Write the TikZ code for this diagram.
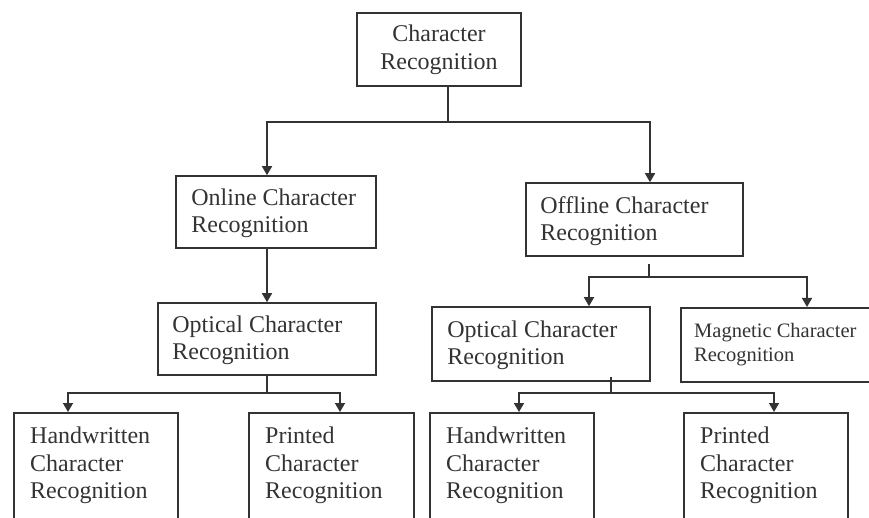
\documentclass[tikz,border=0pt]{standalone}
\usepackage{fontspec}
\setmainfont{Liberation Serif}
\usetikzlibrary{arrows.meta}
\definecolor{ink}{HTML}{333333}
\begin{document}
\begin{tikzpicture}[x=1pt,y=-1pt,
  box/.style={draw=ink,line width=1.6pt,rectangle,inner sep=0pt,text=ink},
  lbl/.style={inner sep=0pt,text=ink,align=left,anchor=west,
    font=\fontsize{24}{27.5}\selectfont},
  conn/.style={draw=ink,line width=1.6pt},
  arr/.style={conn,-{Triangle[length=9pt,width=10pt]}}]
\useasboundingbox (0,0) rectangle (869,518);
\clip (0,0) rectangle (869,518);
% boxes
\node[box,minimum width=164,minimum height=73,align=center,
  font=\fontsize{24}{28}\selectfont] (top) at (439,49.5) {Character\\Recognition};
\node[box,minimum width=200,minimum height=72] (online) at (276,212) {};
\node[lbl] (onlinet) at ([shift={(16pt,-1.5pt)}]online.west) {Online Character\\Recognition};
\node[box,minimum width=217,minimum height=73] (offline) at (634.5,219.5) {};
\node[lbl] (offlinet) at ([shift={(15pt,-1.5pt)}]offline.west) {Offline Character\\Recognition};
\node[box,minimum width=218,minimum height=72] (opt1) at (267,339) {};
\node[lbl] (opt1t) at ([shift={(15pt,-1.5pt)}]opt1.west) {Optical Character\\Recognition};
\node[box,minimum width=218,minimum height=74] (opt2) at (541,344) {};
\node[lbl] (opt2t) at ([shift={(16pt,-1.5pt)}]opt2.west) {Optical Character\\Recognition};
\node[box,minimum width=220,minimum height=74,anchor=north west] (mag) at (680,307) {};
\node[lbl,font=\fontsize{20.5}{24}\selectfont] (magt) at ([xshift=14pt]mag.west) {Magnetic Character\\Recognition};
% bottom boxes
\node[box,minimum width=164,minimum height=140,anchor=north west] (hw1) at (13,412) {};
\node[lbl,anchor=north west] (hw1t) at ([shift={(17pt,-15pt)}]hw1.north west) {Handwritten\\Character\\Recognition};
\node[box,minimum width=165,minimum height=140,anchor=north west] (pr1) at (248,412) {};
\node[lbl,anchor=north west] (pr1t) at ([shift={(17pt,-15pt)}]pr1.north west) {Printed\\Character\\Recognition};
\node[box,minimum width=164,minimum height=140,anchor=north west] (hw2) at (429,412) {};
\node[lbl,anchor=north west] (hw2t) at ([shift={(17pt,-15pt)}]hw2.north west) {Handwritten\\Character\\Recognition};
\node[box,minimum width=164,minimum height=140,anchor=north west] (pr2) at (683,412) {};
\node[lbl,anchor=north west] (pr2t) at ([shift={(17pt,-15pt)}]pr2.north west) {Printed\\Character\\Recognition};
% junctions
\coordinate (j1) at (448,122);
\coordinate (j2) at (649,277);
\coordinate (j3) at (267,393);
\coordinate (j4) at (611,393);
% connectors
\draw[conn] (top.south -| j1) -- (j1);
\draw[arr] (j1) -| ([xshift=-9pt]online.north);
\draw[arr] (j1) -| ([xshift=15.5pt]offline.north);
\draw[arr] (online.south -| j3) -- (opt1.north -| j3);
\draw[conn] ([yshift=-7pt]offline.south -| j2) -- (j2);
\draw[arr] (j2) -| ([xshift=-60pt]opt2.north -| j2);
\draw[arr] (j2) -| ([xshift=127pt]mag.north west);
\draw[conn] (opt1.south -| j3) -- (j3);
\draw[arr] (j3) -| ([xshift=55pt]hw1.north west);
\draw[arr] (j3) -| ([xshift=92pt]pr1.north west);
\draw[conn] ([yshift=5pt]opt2.south -| j4) -- (j4);
\draw[arr] (j4) -| ([xshift=90pt]hw2.north west);
\draw[arr] (j4) -| ([xshift=91pt]pr2.north west);
\end{tikzpicture}
\end{document}
